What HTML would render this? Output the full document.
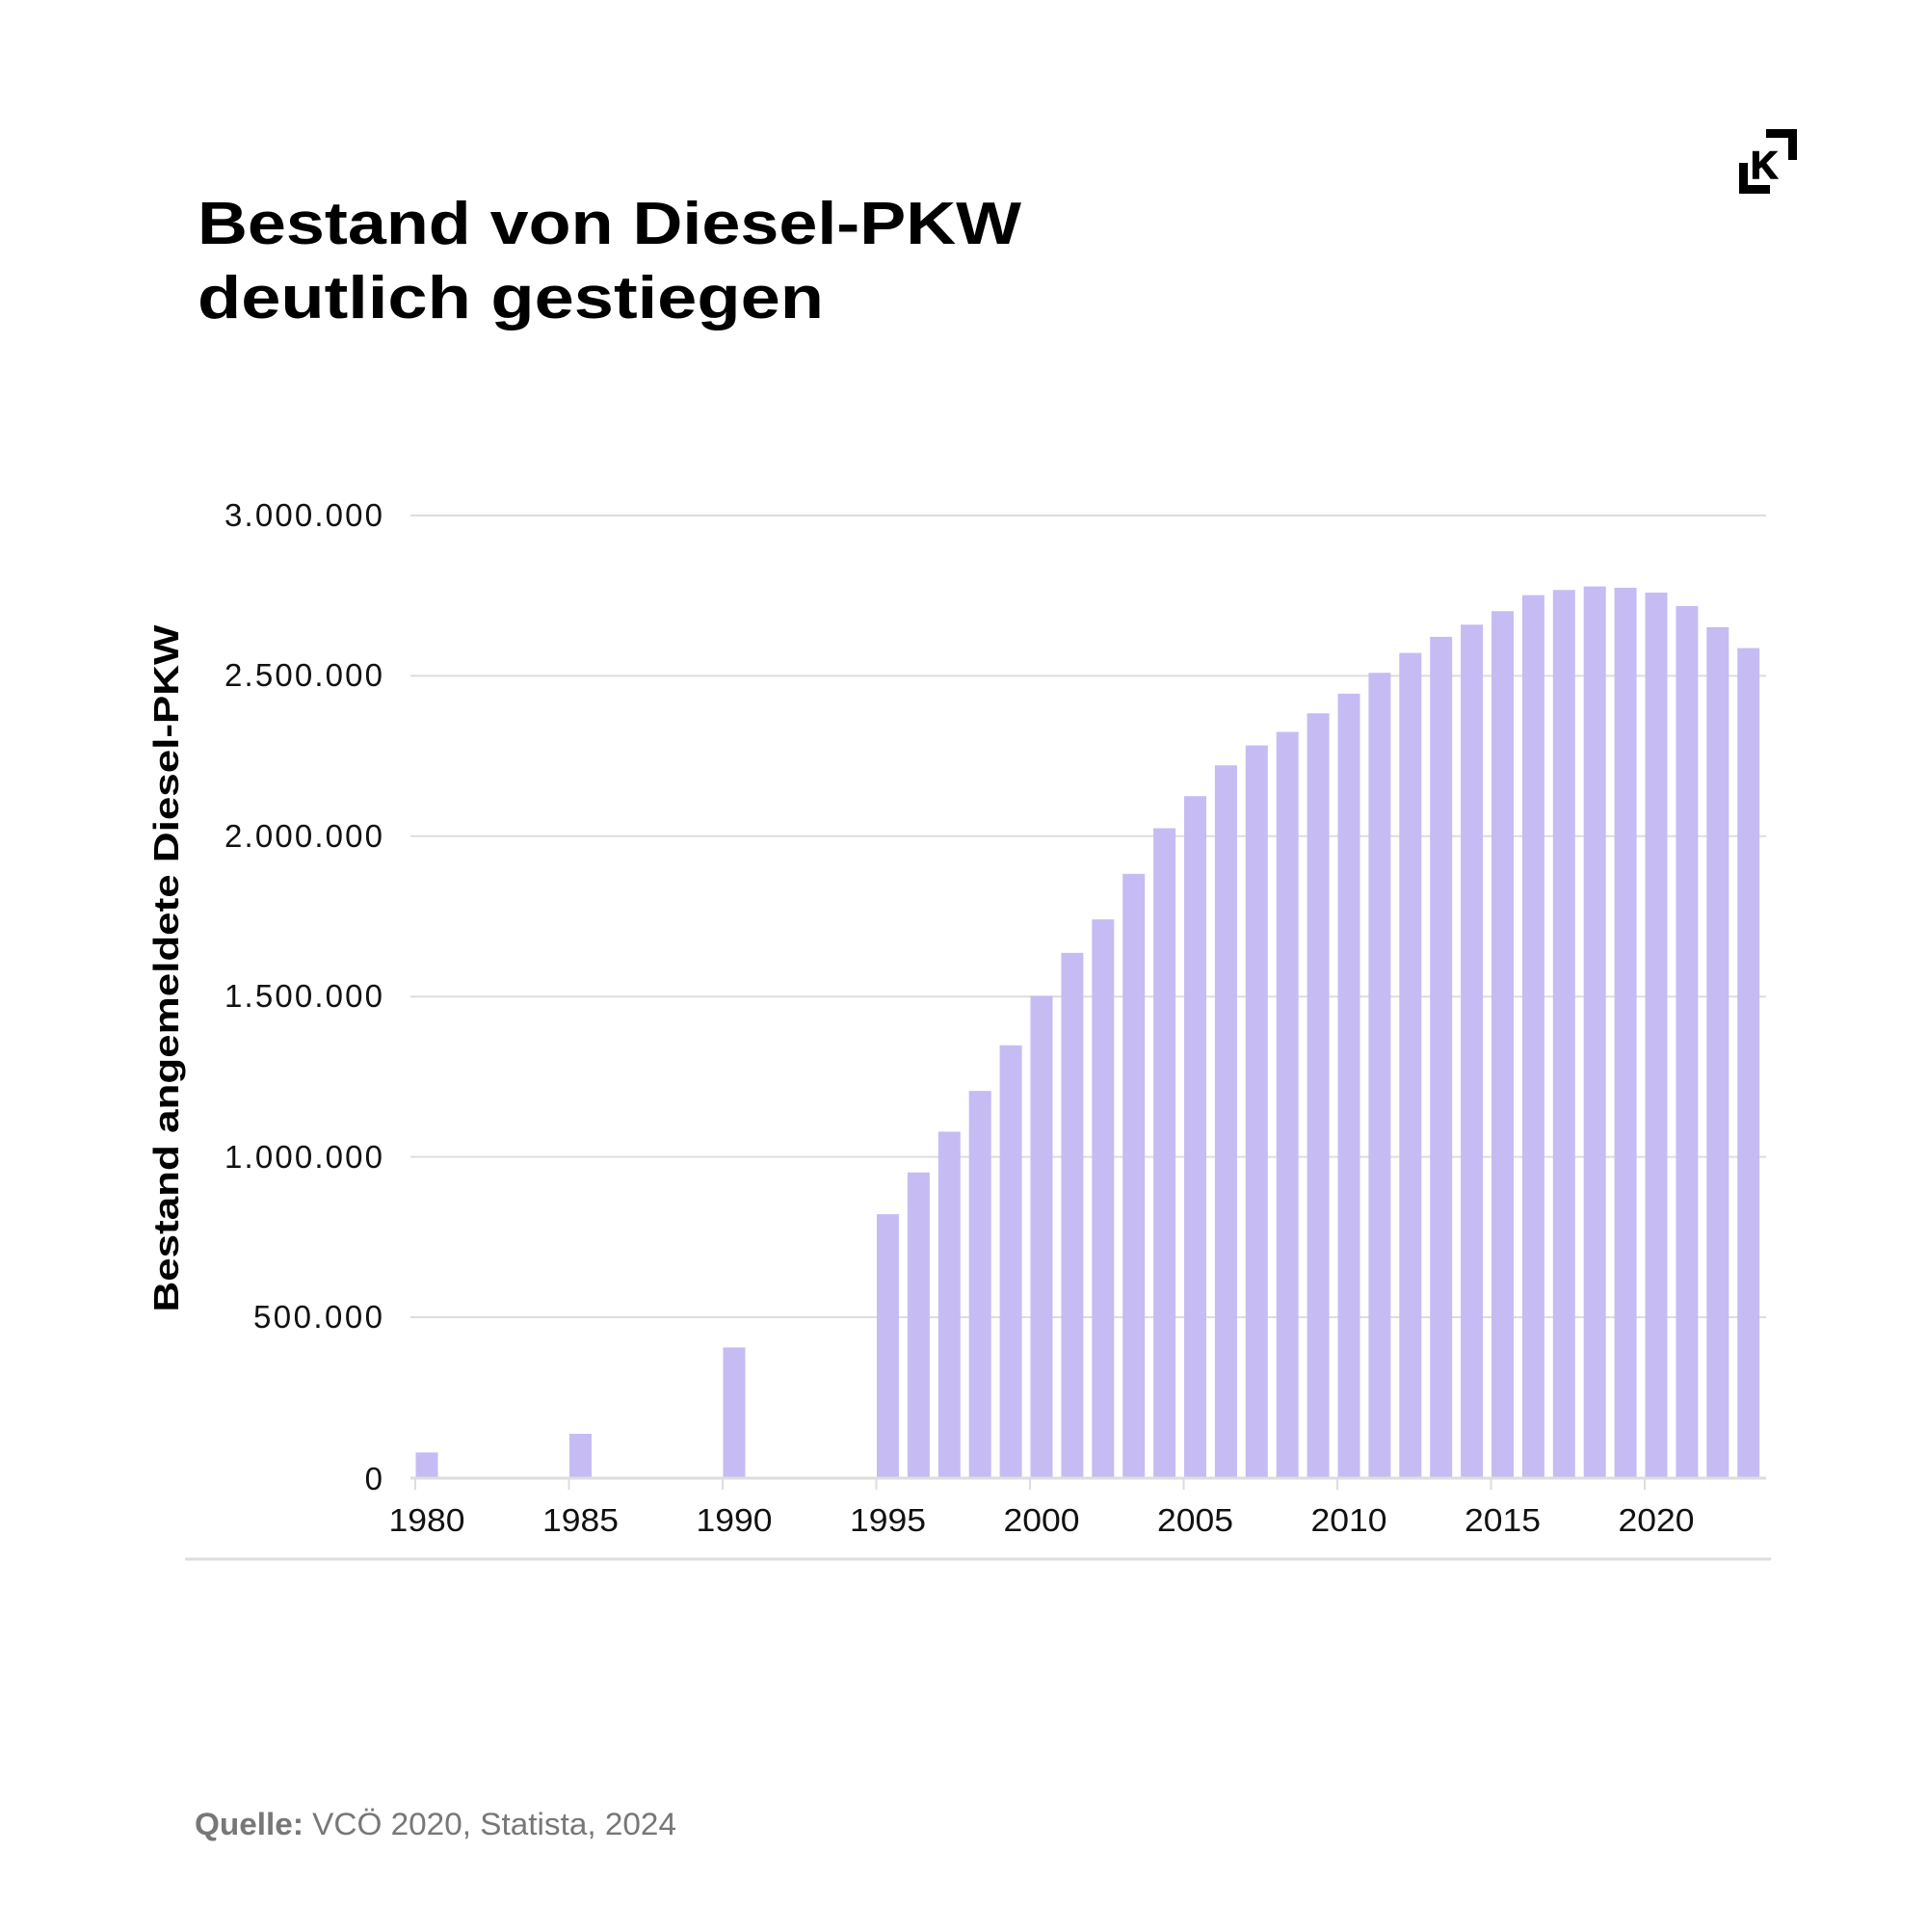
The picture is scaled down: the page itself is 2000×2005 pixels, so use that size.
<!DOCTYPE html>
<html><head><meta charset="utf-8"><style>html,body{margin:0;padding:0;background:#fff}</style></head>
<body>
<svg width="2000" height="2000" viewBox="0 0 2000 2000" xmlns="http://www.w3.org/2000/svg" font-family="Liberation Sans, sans-serif">
<rect width="2000" height="2000" fill="#fff"/>
<text x="205" y="253" font-size="62" font-weight="bold" textLength="855" lengthAdjust="spacingAndGlyphs">Bestand von Diesel-PKW</text>
<text x="205" y="330" font-size="62" font-weight="bold" textLength="650" lengthAdjust="spacingAndGlyphs">deutlich gestiegen</text>
<g fill="#000">
<path d="M1805 169h9v23h23v9h-32z"/>
<path d="M1833 134h32v32h-9v-23h-23z"/>
<text x="1817" y="185" font-size="40" font-weight="bold" stroke="#000" stroke-width="1.5" textLength="28" lengthAdjust="spacingAndGlyphs">K</text>
</g>
<g stroke="#ddd" stroke-width="2">
<line x1="426" x2="1833" y1="535" y2="535"/>
<line x1="426" x2="1833" y1="701.4" y2="701.4"/>
<line x1="426" x2="1833" y1="867.8" y2="867.8"/>
<line x1="426" x2="1833" y1="1034.2" y2="1034.2"/>
<line x1="426" x2="1833" y1="1200.6" y2="1200.6"/>
<line x1="426" x2="1833" y1="1367" y2="1367"/>
</g>
<g font-size="33" text-anchor="end" fill="#111" lengthAdjust="spacingAndGlyphs">
<text x="397" y="546" textLength="164">3.000.000</text>
<text x="397" y="712" textLength="164">2.500.000</text>
<text x="397" y="879" textLength="164">2.000.000</text>
<text x="397" y="1045" textLength="164">1.500.000</text>
<text x="397" y="1212" textLength="164">1.000.000</text>
<text x="397" y="1378" textLength="134">500.000</text>
<text x="397" y="1546">0</text>
</g>
<g id="bars" fill="#c6bcf3"></g>
<line x1="426" x2="1833" y1="1534" y2="1534" stroke="#ddd" stroke-width="3"/>
<g id="ticks" stroke="#ddd" stroke-width="2"></g>
<g id="years" font-size="33" text-anchor="middle" fill="#111"></g>
<line x1="192" x2="1838" y1="1618" y2="1618" stroke="#ddd" stroke-width="3"/>
<text transform="translate(185,1005) rotate(-90)" font-size="36" font-weight="bold" text-anchor="middle" textLength="713" lengthAdjust="spacingAndGlyphs">Bestand angemeldete Diesel-PKW</text>
<text x="202" y="1904" font-size="32" fill="#777" textLength="500" lengthAdjust="spacingAndGlyphs"><tspan font-weight="bold">Quelle:</tspan> VCÖ 2020, Statista, 2024</text>
<script>
var d={1980:80,1985:138,1990:407,1995:822,1996:952,1997:1079,1998:1206,1999:1348,2000:1502,2001:1636,2002:1740,2003:1882,2004:2024,2005:2124,2006:2220,2007:2282,2008:2324,2009:2382,2010:2443,2011:2508,2012:2570,2013:2620,2014:2658,2015:2700,2016:2750,2017:2766,2018:2777,2019:2773,2020:2758,2021:2716,2022:2650,2023:2585};
var ns="http://www.w3.org/2000/svg",b=document.getElementById('bars'),t=document.getElementById('ticks'),y=document.getElementById('years');
function cx(yr){return 443+(yr-1980)*31.9;}
for(var k in d){var h=d[k]*1000/3000000*999.7;var r=document.createElementNS(ns,'rect');r.setAttribute('x',cx(+k)-11.5);r.setAttribute('width',23);r.setAttribute('y',1534-h);r.setAttribute('height',h);b.appendChild(r);}
for(var yr=1980;yr<=2020;yr+=5){var x=cx(yr)-12;var l=document.createElementNS(ns,'line');l.setAttribute('x1',x);l.setAttribute('x2',x);l.setAttribute('y1',1534);l.setAttribute('y2',1546);t.appendChild(l);
var tx=document.createElementNS(ns,'text');tx.setAttribute('x',cx(yr));tx.setAttribute('y',1589);tx.setAttribute('textLength',79);tx.setAttribute('lengthAdjust','spacingAndGlyphs');tx.textContent=yr;y.appendChild(tx);}
</script>
</svg>
</body></html>
